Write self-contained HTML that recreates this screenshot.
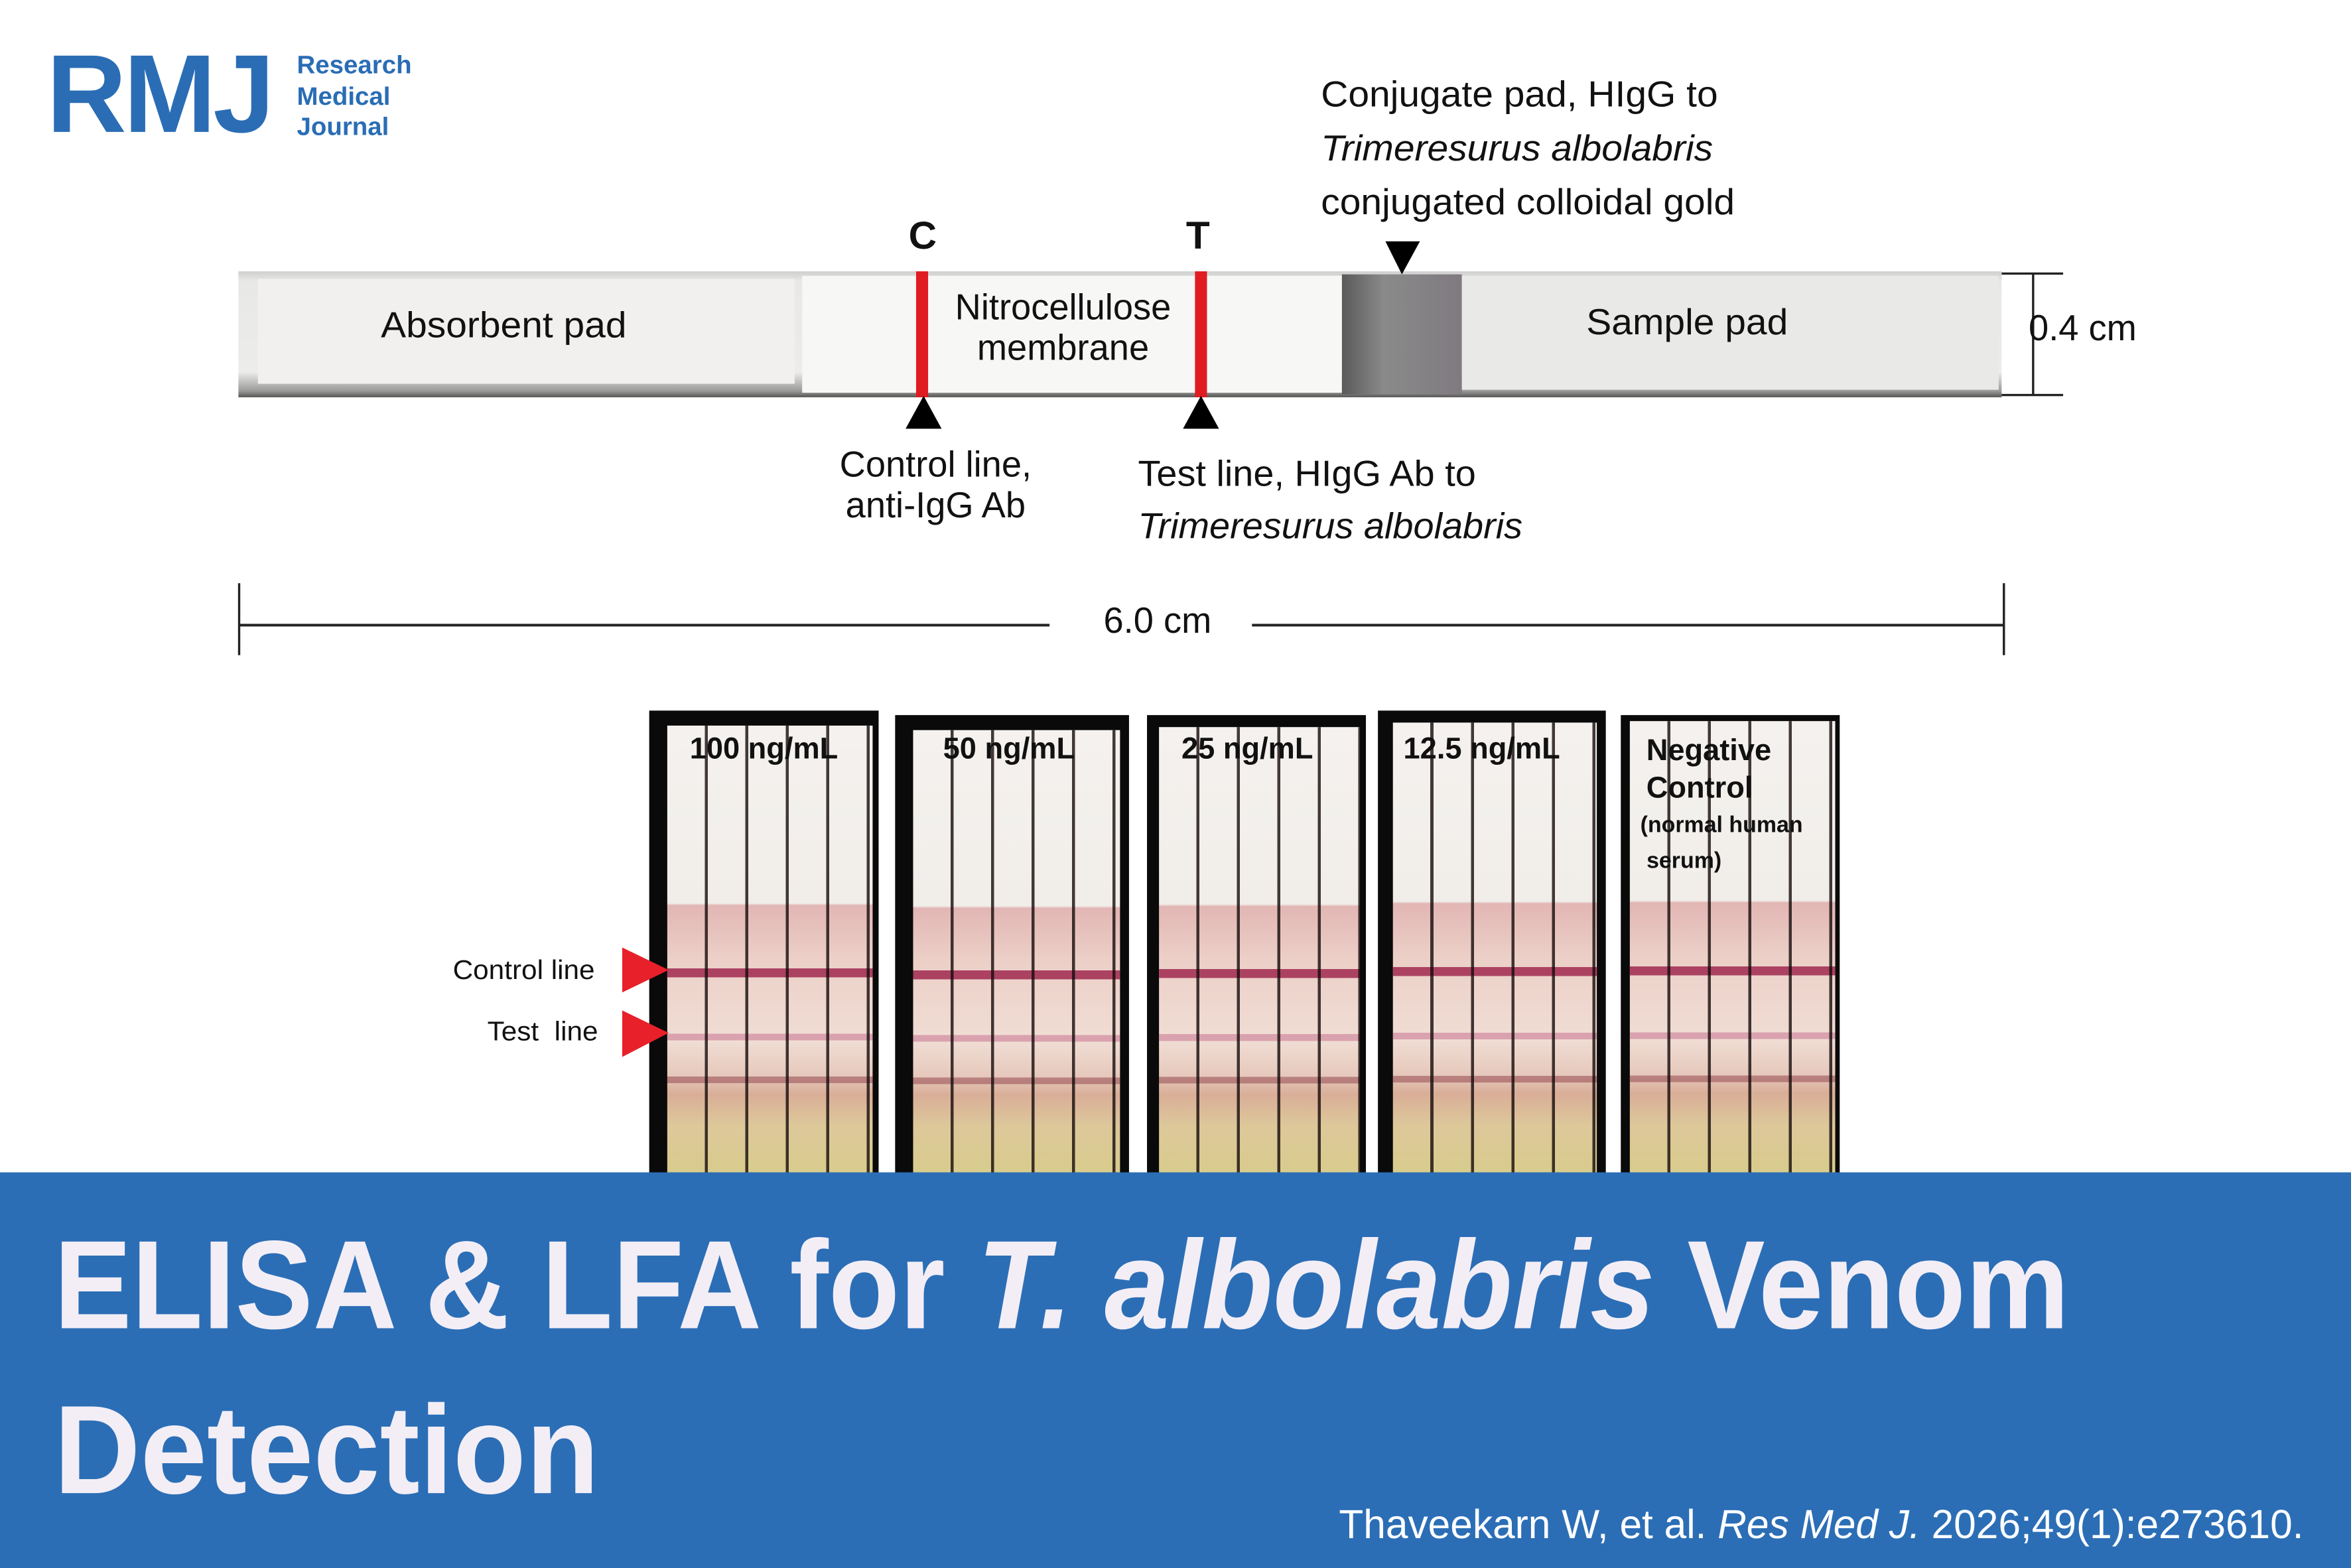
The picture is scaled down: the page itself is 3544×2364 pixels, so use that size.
<!DOCTYPE html>
<html><head><meta charset="utf-8"><style>
html,body{margin:0;padding:0;background:#fff;}
body{width:3544px;height:2363px;overflow:hidden;position:relative;}
#s{position:absolute;left:0;top:0;width:1568px;height:1046px;transform:scale(2.2602);transform-origin:0 0;font-family:"Liberation Sans",sans-serif;color:#111;}
.a{position:absolute;white-space:nowrap;}
.t{font-size:24px;line-height:1;}
.panel{position:absolute;background:#0a0a0a;}
.inner{position:absolute;
background:
repeating-linear-gradient(to right, rgba(0,0,0,0) 0, rgba(0,0,0,0) 25px, rgba(20,10,10,.8) 25px, rgba(20,10,10,.8) 27px),
linear-gradient(to bottom, rgba(0,0,0,0) 0, rgba(0,0,0,0) 54%, rgba(160,40,80,.85) 54%, rgba(160,40,80,.85) 56%, rgba(0,0,0,0) 56%, rgba(0,0,0,0) 68.5%, rgba(190,90,130,.45) 68.5%, rgba(190,90,130,.45) 70%, rgba(0,0,0,0) 70%, rgba(0,0,0,0) 78%, rgba(140,60,70,.5) 78%, rgba(140,60,70,.5) 79.5%, rgba(0,0,0,0) 79.5%),
linear-gradient(to bottom,#f4f1ee 0,#f1eeea 39.5%,#e2b6b4 40%,#ecd0c8 52%,#f0ddd4 70%,#e6c8bb 78%,#d9ae98 82%,#ddc89a 89%,#d8cc8c 100%);}
.lab{position:absolute;font-weight:bold;font-size:20px;color:#111;white-space:nowrap;}
</style></head><body><div id="s">

<div class="a" style="left:31px;top:26px;font-size:74px;font-weight:bold;color:#2a6db5;letter-spacing:-2px;line-height:1;transform:scaleX(1.0);transform-origin:0 0;">RMJ</div>
<div class="a" style="left:198px;top:34px;font-size:17px;font-weight:bold;color:#2a6db5;line-height:20.5px;">Research<br>Medical<br>Journal</div>

<div class="a t" style="left:881px;top:46px;line-height:36px;transform:scaleX(1.05);transform-origin:0 0;">Conjugate pad, HIgG to<br><i>Trimeresurus albolabris</i><br>conjugated colloidal gold</div>
<div class="a" style="left:606px;top:142px;font-size:26px;font-weight:bold;">C</div>
<div class="a" style="left:791px;top:142px;font-size:26px;font-weight:bold;">T</div>

<div class="a" style="left:159px;top:181px;width:1176px;height:84px;background:linear-gradient(to bottom,#cfcfcf 0,#e8e8e6 8%,#ececea 80%,#9a9a98 95%,#555 100%);"></div>
<div class="a" style="left:172px;top:186px;width:358px;height:70px;background:#f1f0ee;"></div>
<div class="a" style="left:535px;top:184px;width:360px;height:78px;background:#f7f7f5;"></div>
<div class="a" style="left:895px;top:183px;width:80px;height:80px;background:linear-gradient(to right,#5a5a5a 0,#8a8a8a 35%,#7f7a80 100%);"></div>
<div class="a" style="left:975px;top:184px;width:358px;height:76px;background:#e9e9e7;"></div>
<div class="a" style="left:611px;top:181px;width:8px;height:84px;background:#e01b22;"></div>
<div class="a" style="left:797px;top:181px;width:8px;height:84px;background:#e01b22;"></div>
<div class="a t" style="left:254px;top:206px;transform:scaleX(1.05);transform-origin:0 0;">Absorbent pad</div>
<div class="a t" style="left:624px;top:192px;text-align:center;width:170px;line-height:27px;">Nitrocellulose<br>membrane</div>
<div class="a t" style="left:1058px;top:204px;transform:scaleX(1.05);transform-origin:0 0;">Sample pad</div>

<svg class="a" style="left:0;top:0" width="1568" height="460">
<polygon points="604,286 628,286 616,264" fill="#000"/>
<polygon points="789,286 813,286 801,264" fill="#000"/>
<polygon points="924,161 947,161 935,183" fill="#000"/>
<line x1="1335" y1="182.5" x2="1376" y2="182.5" stroke="#222" stroke-width="1.5"/>
<line x1="1335" y1="263.5" x2="1376" y2="263.5" stroke="#222" stroke-width="1.5"/>
<line x1="1356" y1="182" x2="1356" y2="264" stroke="#222" stroke-width="1.5"/>
<line x1="160" y1="417" x2="700" y2="417" stroke="#222" stroke-width="1.8"/>
<line x1="835" y1="417" x2="1336" y2="417" stroke="#222" stroke-width="1.8"/>
<line x1="159.5" y1="389" x2="159.5" y2="437" stroke="#222" stroke-width="1.5"/>
<line x1="1336.5" y1="389" x2="1336.5" y2="437" stroke="#222" stroke-width="1.5"/>
</svg>
<div class="a t" style="left:1353px;top:208px;">0.4 cm</div>
<div class="a t" style="left:554px;top:297px;text-align:center;width:140px;line-height:27px;">Control line,<br>anti-IgG Ab</div>
<div class="a t" style="left:759px;top:299px;line-height:35px;transform:scaleX(1.03);transform-origin:0 0;">Test line, HIgG Ab to<br><i>Trimeresurus albolabris</i></div>
<div class="a t" style="left:736px;top:403px;">6.0 cm</div>

<div class="panel" style="left:433px;top:474px;width:153px;height:310px;"><div class="inner" style="left:12px;top:10px;width:137px;height:300px;"></div></div>
<div class="panel" style="left:597px;top:477px;width:156px;height:307px;"><div class="inner" style="left:12px;top:10px;width:138px;height:297px;"></div></div>
<div class="panel" style="left:765px;top:477px;width:146px;height:307px;"><div class="inner" style="left:8px;top:8px;width:134px;height:299px;"></div></div>
<div class="panel" style="left:919px;top:474px;width:152px;height:310px;"><div class="inner" style="left:10px;top:8px;width:136px;height:302px;"></div></div>
<div class="panel" style="left:1081px;top:477px;width:146px;height:307px;"><div class="inner" style="left:6px;top:4px;width:137px;height:303px;"></div></div>
<div class="lab" style="left:460px;top:489px;">100 ng/mL</div>
<div class="lab" style="left:629px;top:489px;">50 ng/mL</div>
<div class="lab" style="left:788px;top:489px;">25 ng/mL</div>
<div class="lab" style="left:936px;top:489px;">12.5 ng/mL</div>
<div class="lab" style="left:1098px;top:489px;line-height:25px;">Negative<br>Control</div>
<div class="lab" style="left:1094px;top:539px;font-size:15px;line-height:24px;">(normal human<br>&nbsp;serum)</div>

<div class="a" style="left:302px;top:637px;font-size:18px;transform:scaleX(1.04);transform-origin:0 0;">Control line</div>
<div class="a" style="left:325px;top:678px;font-size:18px;transform:scaleX(1.04);transform-origin:0 0;">Test&nbsp; line</div>
<svg class="a" style="left:410px;top:625px" width="40" height="85">
<polygon points="5,7 36,22 5,37" fill="#e8202a"/>
<polygon points="5,49 36,64 5,80" fill="#e8202a"/>
</svg>

<div class="a" style="left:0;top:782px;width:1568px;height:264px;background:#2b6eb6;"></div>
<div class="a" style="left:36px;top:815px;font-size:84px;font-weight:bold;color:#f3eef6;line-height:1;transform:scaleX(0.925);transform-origin:0 0;">ELISA &amp; LFA for <i>T. albolabris</i> Venom</div>
<div class="a" style="left:36px;top:925px;font-size:84px;font-weight:bold;color:#f3eef6;line-height:1;transform:scaleX(0.95);transform-origin:0 0;">Detection</div>
<div class="a" style="left:893px;top:1004px;font-size:27px;color:#fff;line-height:1;transform:scaleX(0.99);transform-origin:0 0;">Thaveekarn W, et al. <i>Res Med J.</i> 2026;49(1):e273610.</div>

</div></body></html>
